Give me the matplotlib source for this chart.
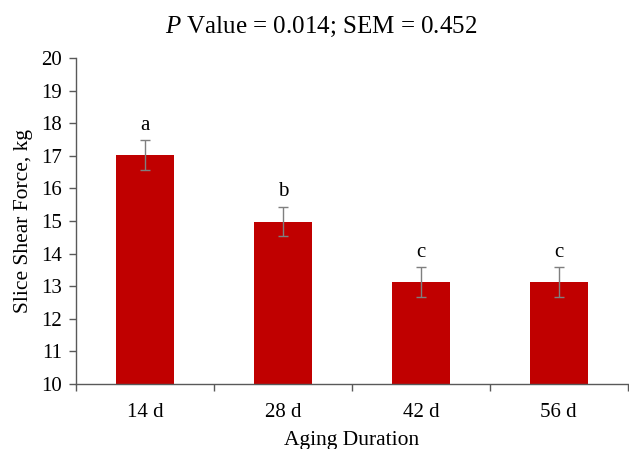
import matplotlib
matplotlib.use("Agg")
import matplotlib.pyplot as plt

plt.rcParams['font.family'] = ['Liberation Serif', 'DejaVu Serif']
plt.rcParams['mathtext.fontset'] = 'custom'
plt.rcParams['mathtext.it'] = 'Liberation Serif:italic'
plt.rcParams['mathtext.rm'] = 'Liberation Serif'

categories = ["14 d", "28 d", "42 d", "56 d"]
values = [17.02, 14.98, 13.13, 13.13]
sem = 0.452
letters = ["a", "b", "c", "c"]
yticks = list(range(10, 21))

fig = plt.figure(figsize=(6.29, 4.49), dpi=100)
ax = fig.add_axes([0.121, 0.145, 0.877, 0.726])

x = list(range(len(categories)))
ax.bar(x, [v - 10 for v in values], bottom=10, width=0.42, color="#C00000", zorder=2)
ax.errorbar(x, values, yerr=sem, fmt="none", ecolor="#7F7F7F", elinewidth=1.0,
            capsize=3.5, capthick=1.0, zorder=3)
for xi, v, lab in zip(x, values, letters):
    ax.text(xi, v + sem + 0.17, lab, ha="center", va="bottom", fontsize=15)

ax.set_xlim(-0.5, len(categories) - 0.5)
ax.set_ylim(10, 20)
ax.set_yticks(yticks)
ax.set_xticks(x)
ax.set_xticklabels(categories)
ax.set_xticks([i + 0.5 for i in range(-1, len(categories))], minor=True)
ax.tick_params(axis="x", which="major", length=0, pad=13.5, labelsize=15)
ax.tick_params(axis="x", which="minor", length=5, width=1.0, color="#595959")
ax.tick_params(axis="y", length=5, width=1.0, color="#595959", labelsize=15, pad=5)

for s in ("top", "right"):
    ax.spines[s].set_visible(False)
for s in ("left", "bottom"):
    ax.spines[s].set_color("#595959")
    ax.spines[s].set_linewidth(1.0)

ax.set_xlabel("Aging Duration", fontsize=15.5, labelpad=7)
ax.set_ylabel("Slice Shear Force, kg", fontsize=15.5, labelpad=6)
fig.suptitle(r"$P$ Value = 0.014; SEM = 0.452", fontsize=18, x=0.51, y=0.967,
             va="top")

fig.savefig("out.png", dpi=100)
